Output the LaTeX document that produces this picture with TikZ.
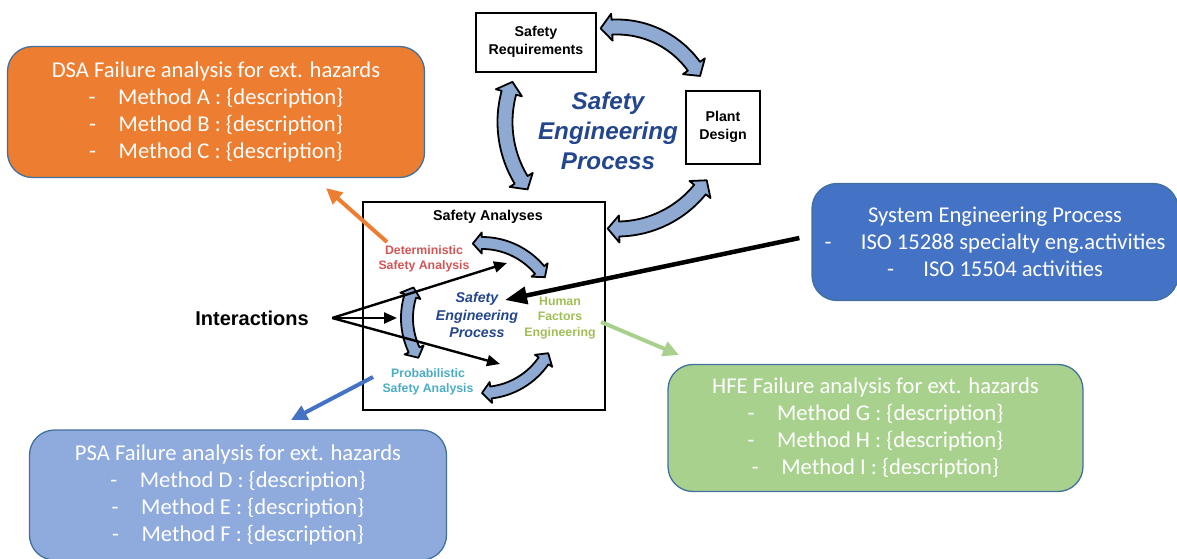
\documentclass[tikz,border=0pt]{standalone}
\usepackage{fontspec}
\setmainfont{Carlito}
\newfontfamily\arialfont{Liberation Sans}
\usetikzlibrary{arrows.meta,calc}

\definecolor{dsaorange}{HTML}{ED7D31}
\definecolor{sysblue}{HTML}{4472C4}
\definecolor{psablue}{HTML}{8FAADC}
\definecolor{hfegreen}{HTML}{A9D18E}
\definecolor{boxline}{HTML}{41719C}
\definecolor{arcfill}{RGB}{143,170,210}
\definecolor{sepnavy}{RGB}{35,70,140}
\definecolor{detred}{RGB}{210,85,85}
\definecolor{hfetext}{RGB}{160,190,85}
\definecolor{psatext}{RGB}{75,172,198}

\tikzset{
  method/.style={draw=boxline, line width=1.3pt, rounded corners=25pt, text=white, align=center, font=\fontsize{22.6}{27}\selectfont},
  plainbox/.style={draw, line width=2pt, align=center, font=\arialfont\bfseries\fontsize{14.2}{17.4}\selectfont},
  small/.style={align=center, font=\arialfont\bfseries\fontsize{12.3}{15.4}\selectfont},
  bendarr/.style={draw, fill=arcfill, line width=1.8pt, line join=round},
  hint/.style={line width=2.4pt, -{Triangle[length=13pt,width=11pt]}},
  link/.style={line width=4pt, -{Triangle[length=16pt,width=15pt]}}
}

% curved double headed block arrow: cx, cy, radius, from, to, half shaft, half head
\newcommand{\bendarrow}[7]{%
  \pgfmathsetmacro\angA{#4+0.85*#7/#3*57.296}
  \pgfmathsetmacro\angB{#5-0.85*#7/#3*57.296}
  \filldraw[bendarr] ({#1+#3*cos(#4)},{#2+#3*sin(#4)})
    -- ({#1+(#3+#7)*cos(\angA)},{#2+(#3+#7)*sin(\angA)})
    -- plot[domain=\angA:\angB, samples=30] ({#1+(#3+#6)*cos(\x)},{#2+(#3+#6)*sin(\x)})
    -- ({#1+(#3+#7)*cos(\angB)},{#2+(#3+#7)*sin(\angB)})
    -- ({#1+#3*cos(#5)},{#2+#3*sin(#5)})
    -- ({#1+(#3-#7)*cos(\angB)},{#2+(#3-#7)*sin(\angB)})
    -- plot[domain=\angB:\angA, samples=30] ({#1+(#3-#6)*cos(\x)},{#2+(#3-#6)*sin(\x)})
    -- ({#1+(#3-#7)*cos(\angA)},{#2+(#3-#7)*sin(\angA)})
    -- cycle;}

\begin{document}
\begin{tikzpicture}[x=1pt,y=-1pt]
  \useasboundingbox (0,0) rectangle (1177,558);
  % the process cycle
  \node[plainbox, minimum width=120pt, minimum height=59pt] (req) at (536,42) {Safety\\Requirements};
  \node[plainbox, minimum width=74pt, minimum height=73pt] (plant) at (723,127) {Plant\\Design};
  \node[plainbox, minimum width=242pt, minimum height=208pt] (ana) at (484,306) {};
  \node[font=\arialfont\bfseries\fontsize{14.3}{17}\selectfont] (anatitle) at (488,217) {Safety Analyses};
  \node[align=center, text=sepnavy, font=\arialfont\bfseries\itshape\fontsize{24.2}{29.7}\selectfont] (sep) at (608,131) {Safety\\Engineering\\Process};
  \bendarrow{617}{122}{95}{-100}{-29}{7.5}{13.5}
  \bendarrow{617}{122}{112}{143}{201}{7.5}{13.5}
  \bendarrow{617}{122}{107}{33}{95}{7.5}{13.5}
  % inside the analyses
  \bendarrow{482}{318}{75}{-97}{-33}{6}{10.5}
  \bendarrow{482}{318}{75}{148}{204}{6}{10.5}
  \bendarrow{482}{318}{75}{28}{90}{6}{10.5}
  \node[small, text=detred] (det) at (424,259) {Deterministic\\Safety Analysis};
  \node[small, text=hfetext] (hfe) at (560,318) {Human\\Factors\\Engineering};
  \node[small, text=psatext] (psa) at (428,382) {Probabilistic\\Safety Analysis};
  \node[align=center, text=sepnavy, font=\arialfont\bfseries\itshape\fontsize{14.2}{17.5}\selectfont] (core) at (477,315) {Safety\\Engineering\\Process};
  % interactions
  \node[font=\arialfont\bfseries\fontsize{20}{24}\selectfont] (inter) at (252,318) {Interactions};
  \coordinate (fan) at ([xshift=20pt]inter.east);
  \coordinate (to det) at (507,263);
  \coordinate (to arc) at (397,318);
  \coordinate (to psa) at (500,364);
  \draw[hint] (fan) -- (to det);
  \draw[hint] (fan) -- (to arc);
  \draw[hint] (fan) -- (to psa);
  % failure analysis boxes
  \node[method, fill=dsaorange, minimum width=417pt, minimum height=131pt] (dsa) at (216,112) {DSA Failure analysis for ext. hazards\\-\hspace{1em}Method A : \{description\}\\-\hspace{1em}Method B : \{description\}\\-\hspace{1em}Method C : \{description\}};
  \node[method, fill=sysblue, minimum width=366pt, minimum height=117pt] (sys) at (995,242) {System Engineering Process\\-\hspace{1.3em}ISO 15288 specialty eng.activities\\-\hspace{1.3em}ISO 15504 activities};
  \node[method, fill=hfegreen, minimum width=415pt, minimum height=127pt] (hfebox) at (875.5,428) {HFE Failure analysis for ext. hazards\\-\hspace{1em}Method G : \{description\}\\-\hspace{1em}Method H : \{description\}\\-\hspace{1em}Method I : \{description\}};
  \node[method, fill=psablue, minimum width=417pt, minimum height=130pt] (psabox) at (238,495) {PSA Failure analysis for ext. hazards\\-\hspace{1em}Method D : \{description\}\\-\hspace{1em}Method E : \{description\}\\-\hspace{1em}Method F : \{description\}};
  % links
  \coordinate (core tip) at (505,300);
  \coordinate (dsa hit) at (326,188);
  \coordinate (psa hit) at (291,420);
  \coordinate (hfe hit) at (679,355);
  \draw[line width=4.5pt, -{Triangle[length=22pt,width=17pt]}] ([xshift=-12pt,yshift=4pt]sys.west) -- (core tip);
  \draw[link, dsaorange] ([xshift=12pt]det.north west) -- (dsa hit);
  \draw[link, sysblue] ([xshift=-6pt,yshift=5pt]psa.west) -- (psa hit);
  \draw[link, hfegreen] ([xshift=2pt,yshift=-4pt]hfe.east) -- (hfe hit);
\end{tikzpicture}
\end{document}
